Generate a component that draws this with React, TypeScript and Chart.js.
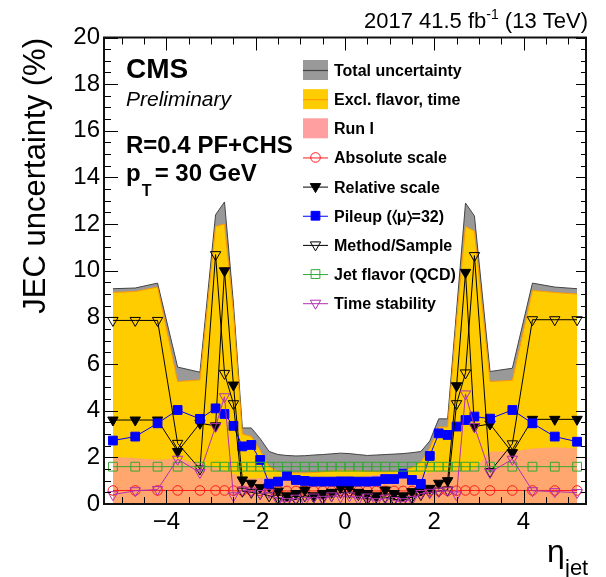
import React, { useEffect, useRef } from 'react';
import { Chart, registerables } from 'chart.js';

Chart.register(...registerables);

// ---------- data ----------
const ETA = [-5.2, -4.7, -4.2, -3.75, -3.25, -2.9, -2.7, -2.5, -2.3, -2.1, -1.9, -1.7, -1.5, -1.3, -1.1, -0.9, -0.7, -0.5, -0.3, -0.1,
  0.1, 0.3, 0.5, 0.7, 0.9, 1.1, 1.3, 1.5, 1.7, 1.9, 2.1, 2.3, 2.5, 2.7, 2.9, 3.25, 3.75, 4.2, 4.7, 5.2];

const TOTAL = [9.23, 9.26, 9.47, 5.87, 5.65, 12.4, 12.95, 8.6, 3.26, 3.26, 2.8, 2.25, 2.12, 2.08, 2.06, 2.07, 2.1, 2.12, 2.15, 2.18,
  2.16, 2.12, 2.08, 2.1, 2.12, 2.14, 2.16, 2.2, 2.25, 2.7, 3.65, 3.65, 8.3, 12.9, 12.35, 5.68, 5.82, 9.47, 9.3, 9.23];

const EXCL_FLAVOR_TIME = [9.07, 9.11, 9.3, 5.25, 5.32, 11.9, 12.0, 8.2, 3.0, 2.9, 2.3, 1.6, 1.4, 1.35, 1.33, 1.33, 1.35, 1.38, 1.42, 1.45,
  1.45, 1.43, 1.4, 1.38, 1.38, 1.4, 1.45, 1.55, 1.8, 2.4, 3.3, 3.3, 7.9, 11.9, 11.7, 5.25, 5.3, 9.15, 9.07, 9.0];

const RUN_I = [2.03, 1.96, 1.9, 1.95, 1.75, 1.55, 1.45, 1.3, 1.15, 1.1, 1.1, 1.15, 1.15, 1.15, 1.1, 1.1, 1.15, 1.15, 1.15, 1.15,
  1.15, 1.15, 1.2, 1.25, 1.3, 1.25, 1.2, 1.2, 1.25, 1.35, 1.4, 1.4, 1.45, 1.45, 1.5, 2.25, 2.25, 2.38, 2.43, 2.38];

const ABSOLUTE = [0.58, 0.58, 0.58, 0.58, 0.58, 0.58, 0.58, 0.57, 0.57, 0.57, 0.56, 0.56, 0.56, 0.56, 0.56, 0.56, 0.56, 0.56, 0.56, 0.56,
  0.56, 0.56, 0.56, 0.56, 0.56, 0.56, 0.56, 0.56, 0.56, 0.56, 0.57, 0.57, 0.57, 0.58, 0.58, 0.58, 0.58, 0.58, 0.58, 0.58];

const RELATIVE = [3.6, 3.6, 3.6, 2.25, 3.46, 3.35, 10.0, 5.1, 1.03, 0.89, 0.7, 0.75, 0.55, 0.35, 0.45, 0.6, 0.35, 0.45, 0.5, 0.7,
  0.7, 0.5, 0.45, 0.35, 0.6, 0.45, 0.35, 0.53, 0.6, 0.67, 0.89, 1.0, 5.07, 9.93, 3.32, 3.43, 2.2, 3.63, 3.63, 3.63];

const PILEUP = [2.72, 2.89, 3.46, 4.03, 3.65, 4.1, 3.86, 3.35, 2.47, 2.53, 1.89, 0.87, 0.96, 1.21, 1.03, 0.99, 0.96, 0.96, 0.96, 0.97,
  0.97, 0.96, 0.96, 0.97, 1.07, 1.07, 1.3, 1.03, 0.86, 2.06, 3.03, 2.96, 3.32, 3.6, 3.75, 3.66, 4.03, 3.46, 2.89, 2.67];

const METHOD = [7.87, 7.87, 7.87, 2.6, 1.5, 10.69, 5.6, 4.3, 0.55, 0.5, 0.45, 0.35, 0.25, 0.15, 0.2, 0.35, 0.3, 0.25, 0.35, 0.5,
  0.5, 0.4, 0.2, 0.3, 0.3, 0.2, 0.15, 0.3, 0.4, 0.5, 0.55, 0.6, 4.3, 5.62, 10.65, 1.39, 2.58, 7.9, 7.9, 7.9];

const FLAVOR = [1.6, 1.6, 1.6, 1.6, 1.6, 1.6, 1.6, 1.6, 1.6, 1.6, 1.6, 1.6, 1.6, 1.6, 1.6, 1.6, 1.6, 1.6, 1.6, 1.6,
  1.6, 1.6, 1.6, 1.6, 1.6, 1.6, 1.6, 1.6, 1.6, 1.6, 1.6, 1.6, 1.6, 1.6, 1.6, 1.6, 1.6, 1.6, 1.6, 1.6];

const TIME = [0.4, 0.57, 0.62, 1.92, 1.35, 3.32, 4.6, 0.35, 0.6, 0.55, 0.45, 0.5, 0.15, 0.1, 0.25, 0.15, 0.3, 0.2, 0.35, 0.3,
  0.35, 0.2, 0.3, 0.1, 0.25, 0.15, 0.1, 0.2, 0.45, 0.5, 0.55, 0.57, 0.39, 4.72, 3.32, 1.35, 1.92, 0.57, 0.53, 0.49];

const Y_MAJOR_TICKS = [0, 2, 4, 6, 8, 10, 12, 14, 16, 18, 20];
const X_MAJOR_TICKS = [-4, -2, 0, 2, 4];
const X_RANGE = [-5.4, 5.4];
const Y_RANGE = [0, 20];
const MINOR_STEP = 0.5;

// ---------- styles ----------
const FONT = '"Liberation Sans", Arial, Helvetica, sans-serif';
const C_GRAY = '#999999';
const C_GRAY_LINE = '#444444';
const C_YELLOW = '#ffcc00';
const C_YELLOW_LINE = '#ff9900';
const C_PINK = 'rgba(255,153,153,0.72)';
const C_PINK_LEG = '#ff9f9f';
const C_RED = '#ff1a1a';
const C_BLACK = '#000000';
const C_BLUE = '#0000ff';
const C_GREEN = '#33a833';
const C_PURPLE = '#b030b0';

const R_CIRCLE = 4.8;
const R_TRI = 6;
const R_RECT = 6.2;

const pts = (vals: number[]) => ETA.map((x, i) => ({ x, y: vals[i] }));

type Marker = { style: 'circle' | 'tri' | 'rect'; filled: boolean; color: string; r: number };

function drawMarker(ctx: CanvasRenderingContext2D, m: Marker, x: number, y: number) {
  ctx.save();
  ctx.beginPath();
  if (m.style === 'circle') {
    ctx.arc(x, y, m.r, 0, Math.PI * 2);
  } else if (m.style === 'tri') {
    const r = m.r;
    ctx.moveTo(x, y + r);
    ctx.lineTo(x - r * Math.sin(Math.PI / 3), y - r / 2);
    ctx.lineTo(x + r * Math.sin(Math.PI / 3), y - r / 2);
    ctx.closePath();
  } else {
    const s = m.r * Math.SQRT1_2;
    ctx.rect(x - s, y - s, 2 * s, 2 * s);
  }
  if (m.filled) {
    ctx.fillStyle = m.color;
    ctx.fill();
  }
  ctx.strokeStyle = m.color;
  ctx.lineWidth = 1;
  ctx.stroke();
  ctx.restore();
}

type LegendItem = { label: string; kind: 'fill'; fill: string; line?: string } | { label: string; kind: 'marker'; marker: Marker };

const LEGEND: LegendItem[] = [
  { label: 'Total uncertainty', kind: 'fill', fill: C_GRAY, line: C_GRAY_LINE },
  { label: 'Excl. flavor, time', kind: 'fill', fill: C_YELLOW, line: C_YELLOW_LINE },
  { label: 'Run I', kind: 'fill', fill: C_PINK_LEG },
  { label: 'Absolute scale', kind: 'marker', marker: { style: 'circle', filled: false, color: C_RED, r: R_CIRCLE } },
  { label: 'Relative scale', kind: 'marker', marker: { style: 'tri', filled: true, color: C_BLACK, r: R_TRI } },
  { label: 'Pileup (\u2329\u03BC\u232A=32)', kind: 'marker', marker: { style: 'rect', filled: true, color: C_BLUE, r: R_RECT } },
  { label: 'Method/Sample', kind: 'marker', marker: { style: 'tri', filled: false, color: C_BLACK, r: R_TRI } },
  { label: 'Jet flavor (QCD)', kind: 'marker', marker: { style: 'rect', filled: false, color: C_GREEN, r: R_RECT } },
  { label: 'Time stability', kind: 'marker', marker: { style: 'tri', filled: false, color: C_PURPLE, r: R_TRI } },
];

const decorPlugin = {
  id: 'decor',
  afterDatasetsDraw(chart: any) {
    const { ctx, chartArea: a, scales } = chart;
    const xs = scales.x;
    const ys = scales.y;
    ctx.save();
    ctx.strokeStyle = '#000';
    ctx.lineWidth = 1;
    ctx.beginPath();
    for (let v = Y_RANGE[0]; v <= Y_RANGE[1] + 1e-9; v += MINOR_STEP) {
      const py = Math.round(ys.getPixelForValue(v)) + 0.5;
      const major = Y_MAJOR_TICKS.some((t) => Math.abs(t - v) < 1e-6);
      ctx.moveTo(a.left, py);
      ctx.lineTo(a.left + (major ? 14 : 7), py);
      ctx.moveTo(a.right, py);
      ctx.lineTo(a.right - (major ? 10 : 5), py);
    }
    for (let v = -5; v <= 5 + 1e-9; v += MINOR_STEP) {
      const px = Math.round(xs.getPixelForValue(v)) + 0.5;
      const major = X_MAJOR_TICKS.some((t) => Math.abs(t - v) < 1e-6);
      ctx.moveTo(px, a.bottom);
      ctx.lineTo(px, a.bottom - (major ? 14 : 7));
      ctx.moveTo(px, a.top);
      ctx.lineTo(px, a.top + (major ? 13 : 7));
    }
    ctx.stroke();
    ctx.lineWidth = 2;
    ctx.strokeStyle = '#111';
    ctx.strokeRect(a.left, a.top, a.right - a.left, a.bottom - a.top);
    ctx.restore();
  },
  afterDraw(chart: any) {
    const { ctx } = chart;
    ctx.save();
    ctx.fillStyle = '#000';
    ctx.textBaseline = 'alphabetic';

    // top-right lumi text
    const big = `22px ${FONT}`;
    const sup = `14px ${FONT}`;
    const p1 = '2017 41.5 fb';
    const p2 = '-1';
    const p3 = ' (13 TeV)';
    ctx.font = big;
    const w1 = ctx.measureText(p1).width;
    const w3 = ctx.measureText(p3).width;
    ctx.font = sup;
    const w2 = ctx.measureText(p2).width;
    const right = 588;
    const x0 = right - (w1 + w2 + w3);
    ctx.textAlign = 'left';
    ctx.font = big;
    ctx.fillText(p1, x0, 28);
    ctx.font = sup;
    ctx.fillText(p2, x0 + w1, 19);
    ctx.font = big;
    ctx.fillText(p3, x0 + w1 + w2, 28);

    // CMS labels
    ctx.font = `bold 28px ${FONT}`;
    ctx.fillText('CMS', 126, 78);
    ctx.font = `italic 21px ${FONT}`;
    ctx.fillText('Preliminary', 126, 106);
    ctx.font = `bold 24px ${FONT}`;
    ctx.fillText('R=0.4 PF+CHS', 126, 153);
    ctx.fillText('p', 126, 181);
    const wp = ctx.measureText('p').width;
    ctx.font = `bold 16px ${FONT}`;
    ctx.fillText('T', 126 + wp + 1, 196);
    ctx.font = `bold 24px ${FONT}`;
    ctx.fillText(' = 30 GeV', 148, 181);

    // y-axis title
    ctx.save();
    ctx.translate(45, 38);
    ctx.rotate(-Math.PI / 2);
    ctx.textAlign = 'right';
    ctx.font = `31px ${FONT}`;
    ctx.fillText('JEC uncertainty (%)', 0, 0);
    ctx.restore();

    // x-axis title
    ctx.textAlign = 'left';
    ctx.font = `32px ${FONT}`;
    ctx.fillText('\u03B7', 547, 562);
    ctx.font = `22px ${FONT}`;
    ctx.fillText('jet', 565, 575);

    // legend
    const lx0 = 303;
    const lx1 = 328;
    LEGEND.forEach((item, i) => {
      const cy = 70 + 29.15 * i;
      if (item.kind === 'fill') {
        ctx.fillStyle = item.fill;
        ctx.fillRect(lx0, cy - 10, lx1 - lx0, 20);
        if (item.line) {
          ctx.strokeStyle = item.line;
          ctx.lineWidth = 1.2;
          ctx.beginPath();
          ctx.moveTo(lx0, cy + 0.5);
          ctx.lineTo(lx1, cy + 0.5);
          ctx.stroke();
        }
      } else {
        ctx.strokeStyle = item.marker.color;
        ctx.lineWidth = 1;
        ctx.beginPath();
        ctx.moveTo(lx0, cy + 0.5);
        ctx.lineTo(lx1, cy + 0.5);
        ctx.stroke();
        drawMarker(ctx, item.marker, (lx0 + lx1) / 2, cy);
      }
      ctx.fillStyle = '#000';
      ctx.font = `bold 16px ${FONT}`;
      ctx.fillText(item.label, 334, cy + 6);
    });
    ctx.restore();
  },
};

function markerDataset(label: string, vals: number[], color: string, style: string, filled: boolean, r: number, rot: number, order: number) {
  return {
    label,
    data: pts(vals),
    borderColor: color,
    borderWidth: 1,
    pointStyle: style,
    pointRotation: rot,
    pointRadius: r,
    pointBorderColor: color,
    pointBorderWidth: 1,
    pointBackgroundColor: filled ? color : 'rgba(0,0,0,0)',
    fill: false,
    order,
  };
}

export default function App() {
  const ref = useRef<HTMLCanvasElement | null>(null);
  useEffect(() => {
    if (!ref.current) return;
    const chart = new Chart(ref.current, {
      type: 'line',
      data: {
        datasets: [
          { label: 'Total uncertainty', data: pts(TOTAL), borderColor: C_GRAY_LINE, borderWidth: 1, backgroundColor: C_GRAY, fill: 'origin', pointRadius: 0, order: 9 },
          { label: 'Excl. flavor, time', data: pts(EXCL_FLAVOR_TIME), borderColor: C_YELLOW_LINE, borderWidth: 1, backgroundColor: C_YELLOW, fill: 'origin', pointRadius: 0, order: 8 },
          { label: 'Run I', data: pts(RUN_I), borderColor: 'rgba(0,0,0,0)', borderWidth: 0, backgroundColor: C_PINK, fill: 'origin', pointRadius: 0, order: 7 },
          markerDataset('Absolute scale', ABSOLUTE, C_RED, 'circle', false, R_CIRCLE, 0, 6),
          markerDataset('Relative scale', RELATIVE, C_BLACK, 'triangle', true, R_TRI, 180, 5),
          markerDataset('Pileup', PILEUP, C_BLUE, 'rect', true, R_RECT, 0, 4),
          markerDataset('Method/Sample', METHOD, C_BLACK, 'triangle', false, R_TRI, 180, 3),
          markerDataset('Jet flavor (QCD)', FLAVOR, C_GREEN, 'rect', false, R_RECT, 0, 2),
          markerDataset('Time stability', TIME, C_PURPLE, 'triangle', false, R_TRI, 180, 1),
        ] as any,
      },
      options: {
        responsive: false,
        animation: false,
        devicePixelRatio: 1,
        events: [],
        layout: { padding: { left: 0, right: 20, top: 37.5, bottom: 0 } },
        plugins: { legend: { display: false }, tooltip: { enabled: false } },
        scales: {
          x: {
            type: 'linear',
            min: X_RANGE[0],
            max: X_RANGE[1],
            grid: { display: false, drawTicks: false },
            border: { display: false },
            afterFit: (s: any) => { s.height = 73; },
            afterBuildTicks: (s: any) => { s.ticks = X_MAJOR_TICKS.map((v) => ({ value: v })); },
            ticks: {
              autoSkip: false,
              maxRotation: 0,
              padding: 4,
              color: '#000',
              font: { family: FONT, size: 24 },
              callback: (v: any) => (Number(v) < 0 ? '\u2212' + Math.abs(Number(v)) : String(v)),
            },
          },
          y: {
            type: 'linear',
            min: Y_RANGE[0],
            max: Y_RANGE[1],
            grid: { display: false, drawTicks: false },
            border: { display: false },
            afterFit: (s: any) => { s.width = 104; },
            afterBuildTicks: (s: any) => { s.ticks = Y_MAJOR_TICKS.map((v) => ({ value: v })); },
            ticks: {
              autoSkip: false,
              padding: 4,
              color: '#000',
              font: { family: FONT, size: 24 },
            },
          },
        },
      } as any,
      plugins: [decorPlugin],
    });
    return () => chart.destroy();
  }, []);
  return (
    <div style={{ position: 'fixed', left: 0, top: 0, width: 606, height: 577, background: '#fff' }}>
      <canvas ref={ref} width={606} height={577} style={{ display: 'block' }} />
    </div>
  );
}
